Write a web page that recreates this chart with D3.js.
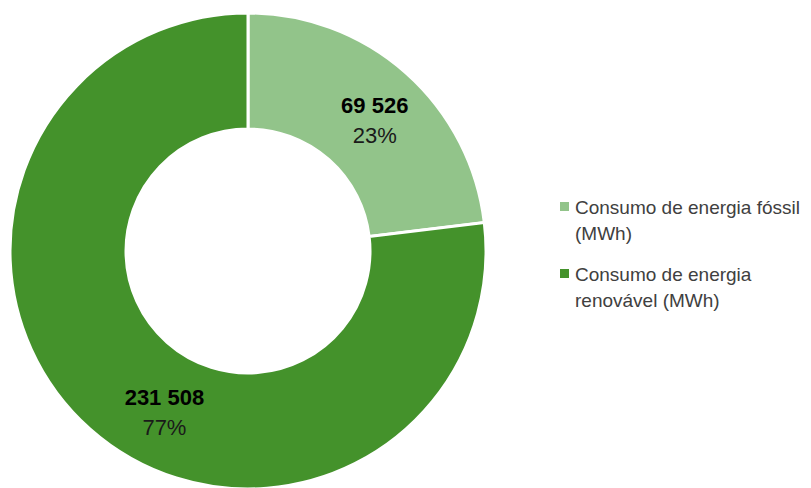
<!DOCTYPE html>
<html>
<head>
<meta charset="utf-8">
<script src="https://cdn.jsdelivr.net/npm/d3@7"></script>
<style>
  html, body { margin: 0; padding: 0; background: #ffffff; }
  svg { display: block; }
</style>
</head>
<body>
<svg id="chart" width="811" height="488"></svg>
<script>
// Energy consumption split (MWh)
const categories = ["Consumo de energia fóssil (MWh)", "Consumo de energia renovável (MWh)"];
const legendLines = [["Consumo de energia fóssil", "(MWh)"], ["Consumo de energia", "renovável (MWh)"]];
const values = [69526, 231508];
const valueLabels = ["69 526", "231 508"];
const percentLabels = ["23%", "77%"];
const colors = ["#92c48a", "#44922b"];

const svg = d3.select("#chart");
const cx = 248, cy = 251;
const outerR = 238, innerR = 122;

const pie = d3.pie().sort(null).value(d => d)(values);
const arc = d3.arc().innerRadius(innerR).outerRadius(outerR);

const g = svg.append("g").attr("transform", `translate(${cx},${cy})`);

g.selectAll("path.slice")
  .data(pie)
  .join("path")
  .attr("class", "slice")
  .attr("d", arc)
  .attr("fill", (d, i) => colors[i])
  .attr("stroke", "#ffffff")
  .attr("stroke-width", 3)
  .attr("stroke-linejoin", "miter");

// Data labels: position along each segment (fraction of its sweep) and radius
const labelFrac = [0.52, 0.451];
const labelRadius = [185, 178];
const labels = g.selectAll("g.lbl")
  .data(pie)
  .join("g")
  .attr("class", "lbl")
  .attr("transform", (d, i) => {
    const a = d.startAngle + (d.endAngle - d.startAngle) * labelFrac[i];
    const r = labelRadius[i];
    return `translate(${r * Math.sin(a)},${-r * Math.cos(a)})`;
  });

labels.append("text")
  .attr("text-anchor", "middle")
  .attr("y", -3)
  .attr("font-family", "Liberation Sans, Arial, sans-serif")
  .attr("font-weight", "bold")
  .attr("font-size", 22)
  .attr("fill", "#000000")
  .text((d, i) => valueLabels[i]);

labels.append("text")
  .attr("text-anchor", "middle")
  .attr("y", 27)
  .attr("font-family", "Liberation Sans, Arial, sans-serif")
  .attr("font-size", 22)
  .attr("fill", "#1a1a1a")
  .text((d, i) => percentLabels[i]);

// Legend
const legend = svg.append("g").attr("transform", "translate(560,0)");
const legendY = [214, 281];
categories.forEach((c, i) => {
  const item = legend.append("g").attr("transform", `translate(0,${legendY[i]})`);
  item.append("rect")
    .attr("x", 0).attr("y", -12)
    .attr("width", 9).attr("height", 9)
    .attr("fill", colors[i]);
  const t = item.append("text")
    .attr("x", 15).attr("y", 0)
    .attr("font-family", "Liberation Sans, Arial, sans-serif")
    .attr("font-size", 19)
    .attr("fill", "#404040");
  legendLines[i].forEach((line, j) => {
    t.append("tspan").attr("x", 15).attr("dy", j === 0 ? 0 : 26).text(line);
  });
});
</script>
</body>
</html>
